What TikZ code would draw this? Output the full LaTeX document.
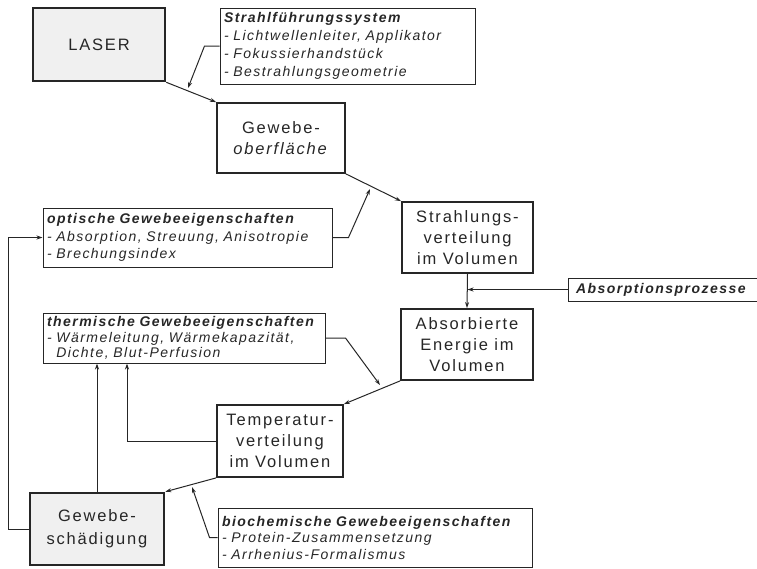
\documentclass[tikz,border=0pt]{standalone}
\usepackage{fontspec}
\setmainfont{Liberation Sans}[LetterSpace=11]
\newfontfamily\annfont{Liberation Sans}[LetterSpace=10.5]
\usetikzlibrary{arrows.meta}
\definecolor{ink}{HTML}{262626}
\begin{document}
\begin{tikzpicture}[x=1pt,y=-1pt,
  mainbox/.style={draw=ink, line width=1.8pt, text=ink, align=center, inner sep=0pt,
    font=\fontsize{16.5}{21}\selectfont},
  heavybox/.style={mainbox, line width=2.6pt, fill=gray!12},
  annbox/.style={draw=ink, line width=1pt, text=ink, align=left, inner xsep=4pt, inner ysep=0pt,
    font=\annfont\fontsize{14}{18}\selectfont\itshape},
  conn/.style={draw=ink, line width=1pt},
  arr/.style={conn, -{Stealth[length=6pt,width=4pt]}}
]
\useasboundingbox (0,0) rectangle (757,568);

% main boxes
\node[heavybox, minimum width=132pt, minimum height=73pt] (laser) at (99,44.5) {LASER};
\node[mainbox, minimum width=128pt, minimum height=70pt] (gewebe) at (281,138) {Gewebe-\\\textit{oberfläche}};
\node[mainbox, minimum width=131pt, minimum height=71pt] (strahl) at (467.5,237.5) {Strahlungs-\\verteilung\\im Volumen};
\node[mainbox, minimum width=132pt, minimum height=71pt] (absorb) at (467,344.5) {Absorbierte\\Energie im\\Volumen};
\node[mainbox, minimum width=126pt, minimum height=72pt] (temp) at (280,441) {Temperatur-\\verteilung\\im Volumen};
\node[heavybox, minimum width=134pt, minimum height=72pt, font=\fontsize{16.5}{23}\selectfont] (gs) at (97,529) {Gewebe-\\schädigung};

% annotation boxes
\node[annbox, minimum width=255pt, minimum height=76pt, text width=247pt] (strahlf) at (347.5,46)
  {\textbf{Strahlführungssystem}\\- Lichtwellenleiter, Applikator\\- Fokussierhandstück\\- Bestrahlungsgeometrie};
\node[annbox, minimum width=289pt, minimum height=59pt, text width=281pt, font=\annfont\fontsize{14}{17.5}\selectfont\itshape] (opt) at (187.5,237.5)
  {\textbf{optische Gewebeeigenschaften}\\- Absorption, Streuung, Anisotropie\\- Brechungsindex};
\node[annbox, minimum width=194pt, minimum height=23pt, text width=178pt, inner xsep=8pt] (absp) at (665,289.5)
  {\textbf{Absorptionsprozesse}};
\node[annbox, minimum width=282pt, minimum height=50pt, text width=274pt, font=\annfont\fontsize{14}{15.5}\selectfont\itshape] (therm) at (184,338)
  {\textbf{thermische Gewebeeigenschaften}\\- Wärmeleitung, Wärmekapazität,\\\phantom{- }Dichte, Blut-Perfusion};
\node[annbox, minimum width=314pt, minimum height=59pt, text width=306pt, font=\annfont\fontsize{14}{16.5}\selectfont\itshape] (bio) at (375,537.5)
  {\textbf{biochemische Gewebeeigenschaften}\\- Protein-Zusammensetzung\\- Arrhenius-Formalismus};

% free ends
\coordinate (t1) at (188,88);
\coordinate (t2) at (370,189);
\coordinate (t3) at (380,385);
\coordinate (t4) at (192,487);
\coordinate (vx1) at (127,0);
\coordinate (vx2) at (8,0);

% main flow
\draw[arr] (laser.south east) -- (gewebe.north west);
\draw[arr] (gewebe.south east) -- (strahl.north west);
\draw[arr] (strahl.south) -- (absorb.north);
\draw[arr] (absorb.south west) -- (temp.north east);
\draw[arr] (temp.south west) -- (gs.north east);

% influences
\draw[arr] (strahlf.west) -- ++(-15,0) -- (t1);
\draw[arr] (opt.east) -- ++(16,0) -- (t2);
\draw[arr] (absp.west) -- (absp.west -| strahl.south);
\draw[arr] (therm.east) -- ++(20,0) -- (t3);
\draw[arr] (bio.west) -- ++(-8,0) -- (t4);

% feedback
\draw[arr] (temp.west) -| (vx1 |- therm.south);
\draw[arr] (gs.north) -- (gs.north |- therm.south);
\draw[arr] (gs.west) -| (vx2 |- opt.west) -- (opt.west);
\end{tikzpicture}
\end{document}
